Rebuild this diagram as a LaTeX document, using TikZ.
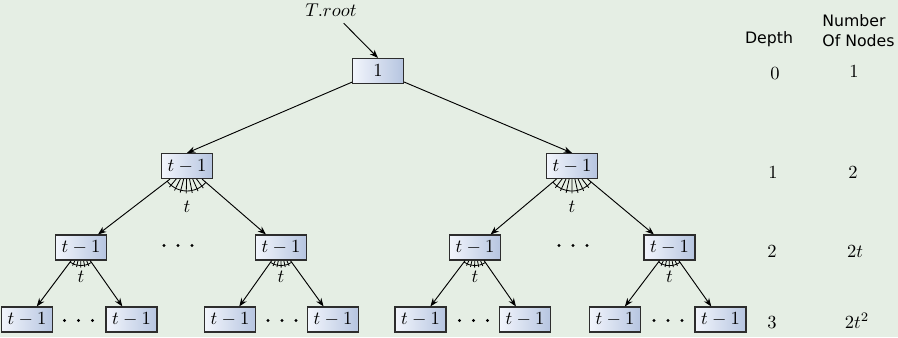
\documentclass[tikz,border=0pt]{standalone}
\usepackage{fontspec}
\newfontfamily\headfont{DejaVu Sans}
\usetikzlibrary{arrows.meta,calc}
\pgfdeclarelayer{paper}
\pgfdeclarelayer{under}
\pgfsetlayers{paper,under,main}

\definecolor{canvasbg}{RGB}{229,238,228}
\definecolor{keylight}{RGB}{242,245,252}
\definecolor{keydark}{RGB}{182,197,224}
\definecolor{keyedge}{RGB}{45,45,45}

% fan of child pointers below a node: #1 parent, #2/#3 outer children,
% #4 arc radius, #5 tick length, #6 number of ticks
\newcommand\childfan[6]{%
  \path let \p1=($(#2)-(#1)$), \p2=($(#3)-(#1)$) in
    \pgfextra{\pgfmathsetmacro\fanfrom{atan2(\y1,\x1)}%
              \pgfmathsetmacro\fanto{atan2(\y2,\x2)}%
              \xdef\fanfrom{\fanfrom}\xdef\fanto{\fanto}};
  \begin{pgfonlayer}{under}
    \draw[fanline] ($(#1.center)+(\fanfrom:#4)$)
      arc[start angle=\fanfrom, end angle=\fanto, radius=#4];
    \foreach \k in {1,...,#6}
      \draw[fanline] (#1.center) -- +({\fanfrom+\k*(\fanto-\fanfrom)/(#6+1)}:#5);
  \end{pgfonlayer}}

% three dots standing for omitted siblings, centred at #2 and named #1-1..#1-3
\newcommand\gapdots[2]{%
  \foreach \j in {1,2,3}
    \node[dotmark] (#1-\j) at ($(#2)+({(\j-2)*14},0)$) {};}

\begin{document}
\begin{tikzpicture}[x=0.54pt,y=-0.54pt,
  key/.style={draw=keyedge, line width=0.6pt, left color=keylight,
    right color=keydark, minimum width=27.5pt, minimum height=13.5pt,
    inner sep=0pt},
  link/.style={line width=0.5pt, -{Stealth[length=4.5pt,width=3.4pt]}},
  fanline/.style={line width=0.45pt},
  dotmark/.style={circle, fill=black, inner sep=0pt, minimum size=1.7pt},
  head/.style={font=\headfont\fontsize{8.5}{10.8}\selectfont, inner sep=0pt},
  val/.style={anchor=base, inner sep=0pt}]

\begin{pgfonlayer}{paper}
  \fill[canvasbg] (0,0) rectangle (898,337);
\end{pgfonlayer}
\useasboundingbox (0,0) rectangle (898,337);

% root and pointer label
\node[key] (r) at (378,71) {$1$};
\node[anchor=base] (troot) at (331,16.7) {$T.root$};

% depth 1
\node[key] (a) at (187,166) {$t-1$};
\node[key] (b) at (572,166) {$t-1$};

% depth 2
\node[key] (aa) at (81,247.5) {$t-1$};
\node[key] (ab) at (281,247.5) {$t-1$};
\node[key] (ba) at (475,247.5) {$t-1$};
\node[key] (bb) at (669.5,247.5) {$t-1$};

% depth 3
\node[key] (aa1) at (27,319.5) {$t-1$};
\node[key] (aa2) at (131.5,319.5) {$t-1$};
\node[key] (ab1) at (230,319.5) {$t-1$};
\node[key] (ab2) at (333,319.5) {$t-1$};
\node[key] (ba1) at (420.5,319.5) {$t-1$};
\node[key] (ba2) at (525,319.5) {$t-1$};
\node[key] (bb1) at (615,319.5) {$t-1$};
\node[key] (bb2) at (720.5,319.5) {$t-1$};

% omitted siblings
\gapdots{da}{178,245.5}
\gapdots{db}{573,245.5}
\gapdots{daa}{78.5,320.5}
\gapdots{dab}{282,320.5}
\gapdots{dba}{473.5,320.5}
\gapdots{dbb}{668,320.5}

% edges
\draw[link] (troot) -- (r.north);
\draw[link] (r) -- (a.north);
\draw[link] (r) -- (b.north);
\draw[link] (a) -- (aa);
\draw[link] (a) -- (ab);
\draw[link] (b) -- (ba);
\draw[link] (b) -- (bb);
\draw[link] (aa) -- (aa1);
\draw[link] (aa) -- (aa2);
\draw[link] (ab) -- (ab1);
\draw[link] (ab) -- (ab2);
\draw[link] (ba) -- (ba1);
\draw[link] (ba) -- (ba2);
\draw[link] (bb) -- (bb1);
\draw[link] (bb) -- (bb2);

% child-pointer fans
\childfan{a}{aa}{ab}{13.5pt}{14.8pt}{7}
\childfan{b}{ba}{bb}{13.5pt}{14.8pt}{7}
\childfan{aa}{aa1}{aa2}{9.8pt}{10.8pt}{5}
\childfan{ab}{ab1}{ab2}{9.8pt}{10.8pt}{5}
\childfan{ba}{ba1}{ba2}{9.8pt}{10.8pt}{5}
\childfan{bb}{bb1}{bb2}{9.8pt}{10.8pt}{5}

\node (ta) at (187,207) {$t$};
\node (tb) at (572,207) {$t$};
\node (taa) at (81,277) {$t$};
\node (tab) at (281,277) {$t$};
\node (tba) at (475,277) {$t$};
\node (tbb) at (669.5,277) {$t$};

% table on the right
\node[head, anchor=base] (dephead) at (769,43.5) {Depth};
\node[head, align=left, anchor=north west] (numhead) at (822,14.5) {Number\\Of Nodes};

\node[val] (d0) at (775,79) {$0$};
\node[val] (d1) at (773,178) {$1$};
\node[val] (d2) at (772,257) {$2$};
\node[val] (d3) at (772,328) {$3$};
\node[val] (n0) at (854,77) {$1$};
\node[val] (n1) at (853,178) {$2$};
\node[val] (n2) at (855,257) {$2t$};
\node[val] (n3) at (857,328) {$2t^2$};
\end{tikzpicture}
\end{document}
